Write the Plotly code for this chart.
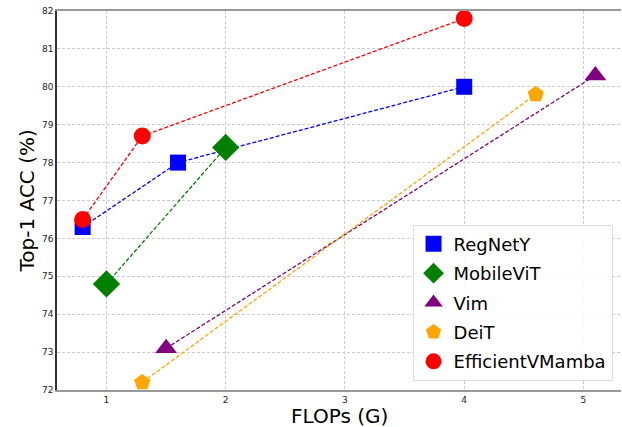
import plotly.graph_objects as go

names = ["RegNetY", "MobileViT", "Vim", "DeiT", "EfficientVMamba"]
flops = [
    [0.8, 1.6, 4.0],
    [1.0, 2.0],
    [1.5, 5.1],
    [1.3, 4.6],
    [0.8, 1.3, 4.0],
]
acc = [
    [76.3, 78.0, 80.0],
    [74.8, 78.4],
    [73.1, 80.3],
    [72.2, 79.8],
    [76.5, 78.7, 81.8],
]
colors = ["blue", "green", "purple", "orange", "red"]
symbols = ["square", "diamond", "triangle-up", "pentagon", "circle"]
sizes = [16, 21, 19, 17, 17]
x_ticks = [1, 2, 3, 4, 5]
y_ticks = [72, 73, 74, 75, 76, 77, 78, 79, 80, 81, 82]

fig = go.Figure()
for n, x, y, c, s, sz in zip(names, flops, acc, colors, symbols, sizes):
    fig.add_trace(go.Scatter(
        x=x, y=y, mode="lines+markers", showlegend=False,
        line=dict(color=c, width=1.3, dash="4px,2px"),
        marker=dict(color=c, symbol=s, size=sz, line=dict(width=0)),
        cliponaxis=False,
    ))
for n, c, s, sz in zip(names, colors, symbols, sizes):
    fig.add_trace(go.Scatter(
        x=[None], y=[None], mode="markers", name=n, legendgroup=n,
        marker=dict(color=c, symbol=s, size=sz, line=dict(width=0)),
    ))

fig.add_annotation(text="FLOPs (G)", xref="paper", yref="paper", x=0.5, y=0,
                   xanchor="center", yanchor="top", yshift=-12, showarrow=False,
                   font=dict(size=20, color="black"))
fig.add_annotation(text="Top-1 ACC (%)", xref="paper", yref="paper", x=0, y=0.5,
                   xanchor="right", yanchor="middle", xshift=-17, textangle=-90,
                   showarrow=False, font=dict(size=20, color="black"))

fig.update_layout(
    width=622, height=427,
    margin=dict(l=57, r=1, t=11, b=37),
    plot_bgcolor="white", paper_bgcolor="white",
    font=dict(family="DejaVu Sans", color="black"),
    xaxis=dict(
        range=[0.585, 5.315], tickvals=x_ticks, ticks="", automargin=False,
        tickfont=dict(size=9, color="#222"), showgrid=True, gridcolor="#cccccc",
        griddash="3px,2px", gridwidth=1, zeroline=False, showline=True,
        linecolor="#999999", linewidth=2, mirror=True,
    ),
    yaxis=dict(
        range=[72, 82], tickvals=y_ticks, ticks="", automargin=False,
        tickfont=dict(size=9, color="#222"), showgrid=True, gridcolor="#cccccc",
        griddash="3px,2px", gridwidth=1, zeroline=False, showline=True,
        linecolor="#333333", linewidth=1.5,
    ),
    legend=dict(
        x=0.985, y=0.025, xanchor="right", yanchor="bottom",
        bgcolor="rgba(255,255,255,0.85)", bordercolor="#dddddd", borderwidth=1,
        font=dict(size=18), itemsizing="trace", tracegroupgap=3, itemwidth=30,
    ),
)
fig.write_html("out.html", config={"displayModeBar": False},
               post_script="document.body.style.margin='0';document.body.style.padding='0';")
